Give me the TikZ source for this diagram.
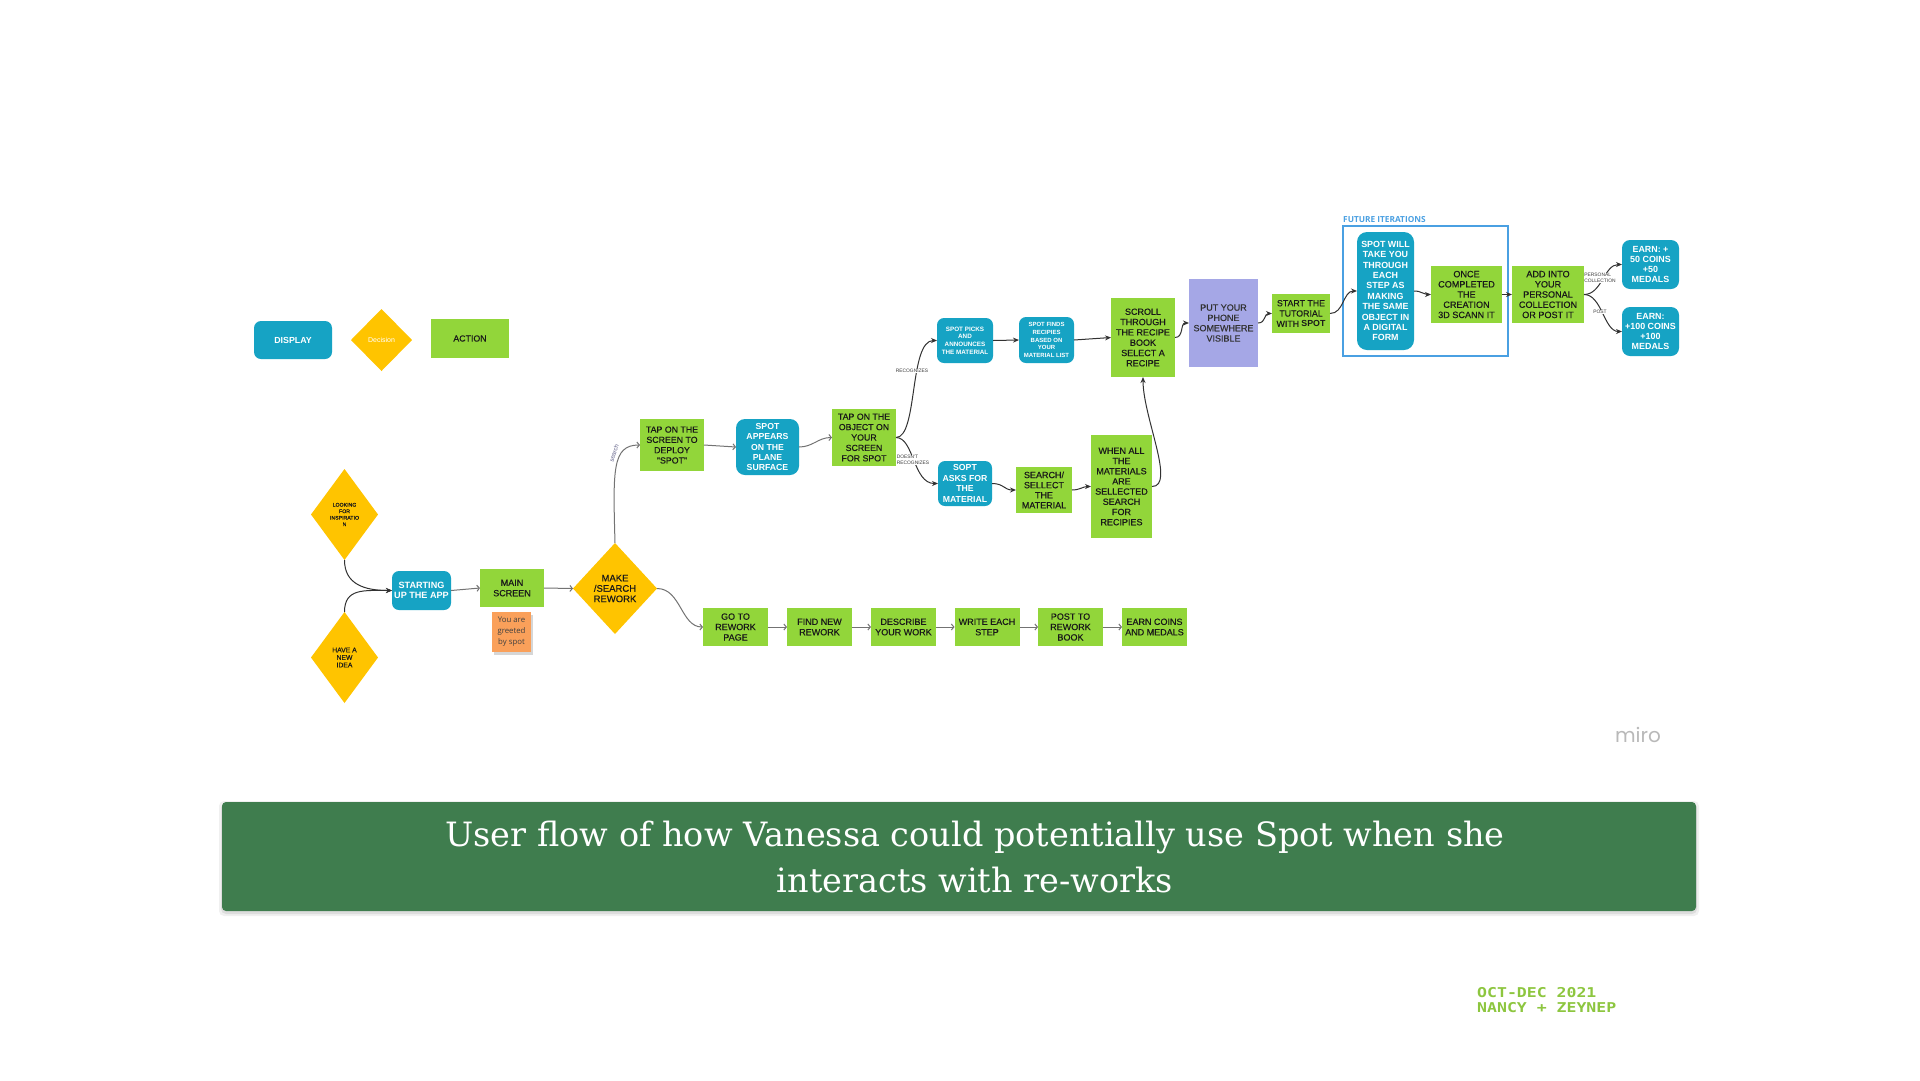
\documentclass[tikz,border=0pt]{standalone}
\usepackage{fontspec}
\usetikzlibrary{arrows.meta,shapes.geometric}
\newfontfamily\boxfont{Liberation Sans}
\newfontfamily\boxfontd[FakeBold=0.35]{Liberation Sans}
\newfontfamily\notefont{Open Sans}
\newfontfamily\capfont{DejaVu Serif}
\newfontfamily\datefont{DejaVu Sans Mono}
\newfontfamily\mirofont{Poppins}
\definecolor{dispteal}{RGB}{22,163,196}
\definecolor{decyellow}{RGB}{255,196,0}
\definecolor{actgreen}{RGB}{146,214,58}
\definecolor{lav}{RGB}{165,167,230}
\definecolor{stickyor}{RGB}{250,160,90}
\definecolor{capgreen}{RGB}{63,125,78}
\definecolor{dategreen}{RGB}{141,198,63}
\definecolor{frameblue}{RGB}{74,160,226}
\definecolor{darktext}{RGB}{25,25,25}
\definecolor{darkline}{RGB}{50,50,50}
\definecolor{lightline}{RGB}{115,115,115}
\definecolor{mirogray}{RGB}{185,185,185}
\definecolor{searchcol}{RGB}{95,95,135}
\begin{document}
\begin{tikzpicture}[x=1pt,y=-1pt,
  fnt/.style 2 args={font=\boxfontd\fontsize{#1}{#2}\selectfont},
  fntb/.style 2 args={font=\boxfont\bfseries\fontsize{#1}{#2}\selectfont},
  sz/.style 2 args={minimum width=#1pt, minimum height=#2pt},
  box/.style={align=center, inner sep=0pt, outer sep=0pt},
  disp/.style={box, fill=dispteal, text=white, rounded corners=7pt, fntb={9}{10.4}},
  act/.style={box, fill=actgreen, text=darktext, fnt={9}{10.4}},
  dec/.style={box, diamond, fill=decyellow, text=darktext, fnt={9.5}{10.4}},
  conn/.style={draw=darkline, line width=1pt, -{Stealth[length=6pt,width=5pt]}},
  oconn/.style={draw=lightline, line width=1pt, -{Straight Barb[length=2.5pt,width=6pt]}},
  lab/.style={inner sep=0.6pt, fill=white, text=darktext!85, align=left, font=\boxfont\fontsize{4.9}{5.6}\selectfont},
  capt/.style={inner sep=0pt, text=white, font=\capfont\fontsize{33.5}{46}\selectfont},
  datet/.style={anchor=base west, inner sep=0pt, text=dategreen, font=\datefont\bfseries\fontsize{16.5}{16.5}\selectfont},
]
\useasboundingbox (0,0) rectangle (1920,1080);
\fill[white] (0,0) rectangle (1920,1080);

% ---------- legend ----------
\node[disp, sz={78}{38}, fntb={8.8}{10}] (legdisp) at (293,340) {DISPLAY};
\node[dec, sz={61}{62}, text=white, font=\boxfont\fontsize{7}{8}\selectfont] (legdec) at (381.5,340) {Decision};
\node[act, sz={78}{39}, fnt={8.8}{10}] (legact) at (470,338.5) {ACTION};

% ---------- start of flow ----------
\node[dec, sz={67}{91}, fnt={5.2}{6.5}] (look) at (344.5,514.5) {LOOKING\\FOR\\INSPIRATIO\\N};
\node[dec, sz={67}{91}, fnt={6.8}{7.5}] (idea) at (344.5,657.5) {HAVE A\\NEW\\IDEA};
\node[disp, sz={59}{39}, fntb={9.1}{10.7}] (start) at (421.5,590.5) {STARTING\\UP THE APP};
\node[act, sz={64}{38}] (main) at (512,588) {MAIN\\SCREEN};
\fill[black, opacity=0.16] (493.5,615) rectangle (533,655);
\node[box, fill=stickyor, sz={39}{40}, text=black!75, font=\notefont\fontsize{7.8}{11}\selectfont] (greet) at (511.5,632) {You are\\greeted\\by spot};
\node[dec, sz={84}{91}] (make) at (615,588.5) {MAKE\\/SEARCH\\REWORK};

% ---------- bottom row ----------
\node[act, sz={65}{38}] (goto) at (735.5,627) {GO TO\\REWORK\\PAGE};
\node[act, sz={65}{38}] (find) at (819.5,627) {FIND NEW\\REWORK};
\node[act, sz={65}{38}] (describe) at (903.5,627) {DESCRIBE\\YOUR WORK};
\node[act, sz={65}{38}] (write) at (987,627) {WRITE EACH\\STEP};
\node[act, sz={65}{38}] (post) at (1070.5,627) {POST TO\\REWORK\\BOOK};
\node[act, sz={65}{38}] (earn) at (1154.5,627) {EARN COINS\\AND MEDALS};

% ---------- spot branch ----------
\node[act, sz={64}{52}, fnt={8.8}{10.3}] (tapscr) at (672,445) {TAP ON THE\\SCREEN TO\\DEPLOY\\"SPOT"};
\node[disp, sz={63}{56}, fntb={8.7}{10.3}, rounded corners=9pt] (appears) at (767.5,447) {SPOT\\APPEARS\\ON THE\\PLANE\\SURFACE};
\node[act, sz={64}{57}, fnt={8.8}{10.4}] (tapobj) at (864,437.5) {TAP ON THE\\OBJECT ON\\YOUR\\SCREEN\\FOR SPOT};
\node[disp, sz={56}{45}, fntb={6.3}{7.8}] (picks) at (965,340.5) {SPOT PICKS\\AND\\ANNOUNCES\\THE MATERIAL};
\node[disp, sz={55}{46}, fntb={6}{7.7}] (finds) at (1046.5,340) {SPOT FINDS\\RECIPIES\\BASED ON\\YOUR\\MATERIAL LIST};
\node[disp, sz={54}{45}, fntb={8.7}{10.4}] (asks) at (965,483.5) {SOPT\\ASKS FOR\\THE\\MATERIAL};
\node[act, sz={56}{46}, fnt={9}{10.1}] (sellect) at (1044,490) {SEARCH/\\SELLECT\\THE\\MATERIAL};
\node[act, sz={61}{103}, fnt={9}{10.2}] (whenall) at (1121.5,486.5) {WHEN ALL\\THE\\MATERIALS\\ARE\\SELLECTED\\SEARCH\\FOR\\RECIPIES};
\node[act, sz={64}{79}, fnt={9}{10.3}] (scroll) at (1143,337.5) {SCROLL\\THROUGH\\THE RECIPE\\BOOK\\SELECT A\\RECIPE};
\node[box, fill=lav, text=black!80, sz={69}{88}, fnt={9}{10.3}] (phone) at (1223.5,323) {PUT YOUR\\PHONE\\SOMEWHERE\\VISIBLE};
\node[act, sz={58}{39}, fnt={8.8}{10.3}] (tutorial) at (1301,313.5) {START THE\\TUTORIAL\\WITH {\boxfont\bfseries SPOT}};

% ---------- future iterations ----------
\node[draw=frameblue, line width=1.4pt, sz={165}{130}, inner sep=0pt] (frame) at (1425.5,291) {};
\node[anchor=south west, inner sep=0pt, text=frameblue, font=\notefont\bfseries\fontsize{8.3}{9}\selectfont] (futlab) at (1343,223) {FUTURE ITERATIONS};
\node[disp, sz={57}{118}, fntb={8.9}{10.4}, rounded corners=10pt] (spotwill) at (1385.5,291) {SPOT WILL\\TAKE YOU\\THROUGH\\EACH\\STEP AS\\MAKING\\THE SAME\\OBJECT IN\\A DIGITAL\\FORM};
\node[act, sz={71}{57}, fnt={9.1}{10.2}] (once) at (1466.5,294.5) {ONCE\\COMPLETED\\THE\\CREATION\\3D SCANN IT};
\node[act, sz={72}{57}, fnt={9.1}{10.2}] (add) at (1548,294.5) {ADD INTO\\YOUR\\PERSONAL\\COLLECTION\\OR POST IT};
\node[disp, sz={57}{49}, fntb={8.9}{10.3}, rounded corners=8pt] (earn50) at (1650.5,264.5) {EARN: +\\50 COINS\\+50\\MEDALS};
\node[disp, sz={57}{49}, fntb={8.9}{10.3}, rounded corners=8pt] (earn100) at (1650.5,331.5) {EARN:\\+100 COINS\\+100\\MEDALS};

% ---------- connectors ----------
\draw[conn] (look.south) .. controls +(0,24) and +(-28,0) .. (start.west);
\draw[conn] (idea.north) .. controls +(0,-24) and +(-28,0) .. (start.west);
\draw[oconn] (start.east) -- (main.west);
\draw[oconn] (main.east) -- (make.west);
\draw[oconn] (make.east) .. controls +(24,0) and +(-22,0) .. (goto.west);
\draw[oconn] (goto.east) -- (find.west);
\draw[oconn] (find.east) -- (describe.west);
\draw[oconn] (describe.east) -- (write.west);
\draw[oconn] (write.east) -- (post.west);
\draw[oconn] (post.east) -- (earn.west);
\draw[oconn] (make.north) .. controls (613,470) and (612,445) .. (tapscr.west);
\draw[oconn] (tapscr.east) -- (appears.west);
\draw[oconn] (appears.east) .. controls +(14,0) and +(-14,0) .. (tapobj.west);
\draw[conn] (tapobj.east) .. controls +(22,0) and +(-28,0) .. (picks.west);
\draw[conn] (tapobj.east) .. controls +(18,0) and +(-25,0) .. (asks.west);
\draw[conn] (picks.east) -- (finds.west);
\draw[conn] (finds.east) -- (scroll.west);
\draw[conn] (asks.east) .. controls +(12,0) and +(-12,0) .. (sellect.west);
\draw[conn] (sellect.east) .. controls +(8,0) and +(-8,0) .. (whenall.west);
\draw[conn] (whenall.east) .. controls +(24,0) and +(0,40) .. (scroll.south);
\draw[conn] (scroll.east) .. controls +(9,0) and +(-9,0) .. (phone.west);
\draw[conn] (phone.east) .. controls +(8,0) and +(-8,0) .. (tutorial.west);
\draw[conn] (tutorial.east) .. controls +(14,0) and +(-14,0) .. (spotwill.west);
\draw[conn] (spotwill.east) .. controls +(8,0) and +(-8,0) .. (once.west);
\draw[conn] (once.east) -- (add.west);
\draw[conn] (add.east) .. controls +(18,0) and +(-18,0) .. (earn50.west);
\draw[conn] (add.east) .. controls +(18,0) and +(-18,0) .. (earn100.west);

% ---------- connector labels ----------
\node[lab, rotate=72, text=searchcol, font=\boxfont\fontsize{6}{6}\selectfont] (searchlab) at (614,453) {search};
\node[lab] (reclab) at (912,371) {RECOGNIZES};
\node[lab, anchor=west] (dreclab) at (896,460) {DOESN'T\\RECOGNIZES};
\node[lab] (perslab) at (1600,278) {PERSONAL\\COLLECTION};
\node[lab] (postlab) at (1600,312) {POST};

% ---------- miro mark ----------
\node[anchor=base, inner sep=0pt, text=mirogray, font=\mirofont\fontsize{20}{20}\selectfont] (miro) at (1638,742) {miro};

% ---------- caption ----------
\fill[black, opacity=0.06, rounded corners=5pt] (219,801) rectangle (1699,916);
\fill[black, opacity=0.08, rounded corners=5pt] (221,803) rectangle (1697,914);
\node[fill=capgreen, rounded corners=4pt, sz={1474}{109}, inner sep=0pt] (capbox) at (959,856.5) {};
\node[capt, anchor=base] (cap1) at (975,846) {User flow of how Vanessa could potentially use Spot when she};
\node[capt, anchor=base] (cap2) at (975,892) {interacts with re-works};

% ---------- date ----------
\node[datet] (date1) at (1477,997) {\scalebox{1}[0.82]{OCT-DEC 2021}};
\node[datet] (date2) at (1477,1012) {\scalebox{1}[0.82]{NANCY + ZEYNEP}};
\end{tikzpicture}
\end{document}
